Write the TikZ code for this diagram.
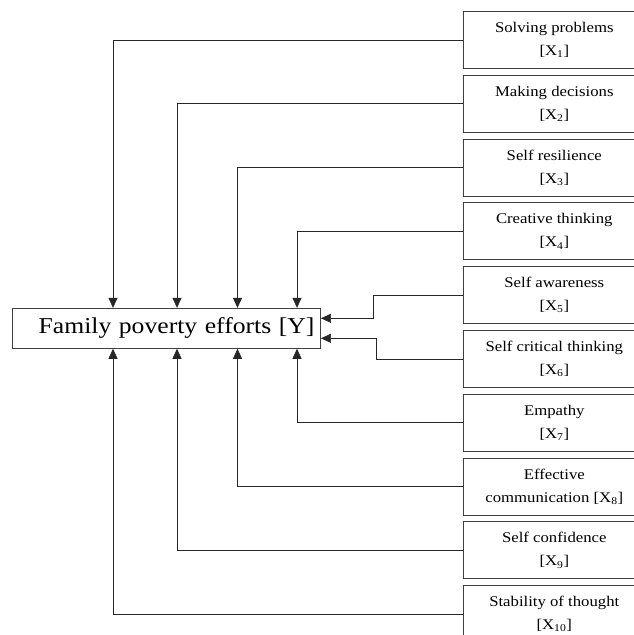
\documentclass[tikz,border=0pt]{standalone}
\usepackage{fontspec}
\setmainfont[FakeStretch=1.13]{Liberation Serif}
\usetikzlibrary{arrows.meta, positioning}

\begin{document}
\begin{tikzpicture}[x=1pt,y=1pt,>={Triangle[width=9pt,length=10pt]},node distance=5.9pt,
  factor/.style={draw=black!75,line width=0.9pt,minimum width=182pt,minimum height=57pt,
    inner sep=2pt,align=center,font=\fontsize{14.8}{23}\selectfont},
  target/.style={draw=black!75,line width=0.9pt,minimum width=308pt,minimum height=40pt,
    text width=296pt,inner xsep=6pt,align=right,font=\fontsize{22.7}{26}\selectfont},
  link/.style={->,draw=black!85,line width=0.7pt}]
  \useasboundingbox (0,0) rectangle (634,-635);
  % outcome
  \node[target] (y) at (166.5,-328.3) {Family poverty efforts [Y]};
  % life skills
  \node[factor] (x1) at (554.3,-40) {Solving problems\\{}[X\textsubscript{1}]};
  \node[factor] (x2) [below=of x1] {Making decisions\\{}[X\textsubscript{2}]};
  \node[factor] (x3) [below=of x2] {Self resilience\\{}[X\textsubscript{3}]};
  \node[factor] (x4) [below=of x3] {Creative thinking\\{}[X\textsubscript{4}]};
  \node[factor] (x5) [below=of x4] {Self awareness\\{}[X\textsubscript{5}]};
  \node[factor] (x6) [below=of x5] {Self critical thinking\\{}[X\textsubscript{6}]};
  \node[factor] (x7) [below=of x6] {Empathy\\{}[X\textsubscript{7}]};
  \node[factor] (x8) [below=of x7] {Effective\\communication [X\textsubscript{8}]};
  \node[factor] (x9) [below=of x8] {Self confidence\\{}[X\textsubscript{9}]};
  \node[factor] (x10) [below=of x9] {Stability of thought\\{}[X\textsubscript{10}]};
  % connectors
  \draw[link] (x1.west) -| ([xshift=-53.5pt]y.north);
  \draw[link] (x2.west) -| ([xshift=10.5pt]y.north);
  \draw[link] (x3.west) -| ([xshift=71pt]y.north);
  \draw[link] (x4.west) -| ([xshift=130.5pt]y.north);
  \draw[link] (x5.west) -- ++(-90pt,0) |- ([yshift=10pt]y.east);
  \draw[link] (x6.west) -- ++(-87pt,0) |- ([yshift=-10pt]y.east);
  \draw[link] (x7.west) -| ([xshift=130.5pt]y.south);
  \draw[link] (x8.west) -| ([xshift=71pt]y.south);
  \draw[link] (x9.west) -| ([xshift=10.5pt]y.south);
  \draw[link] (x10.west) -| ([xshift=-53.5pt]y.south);
\end{tikzpicture}
\end{document}
